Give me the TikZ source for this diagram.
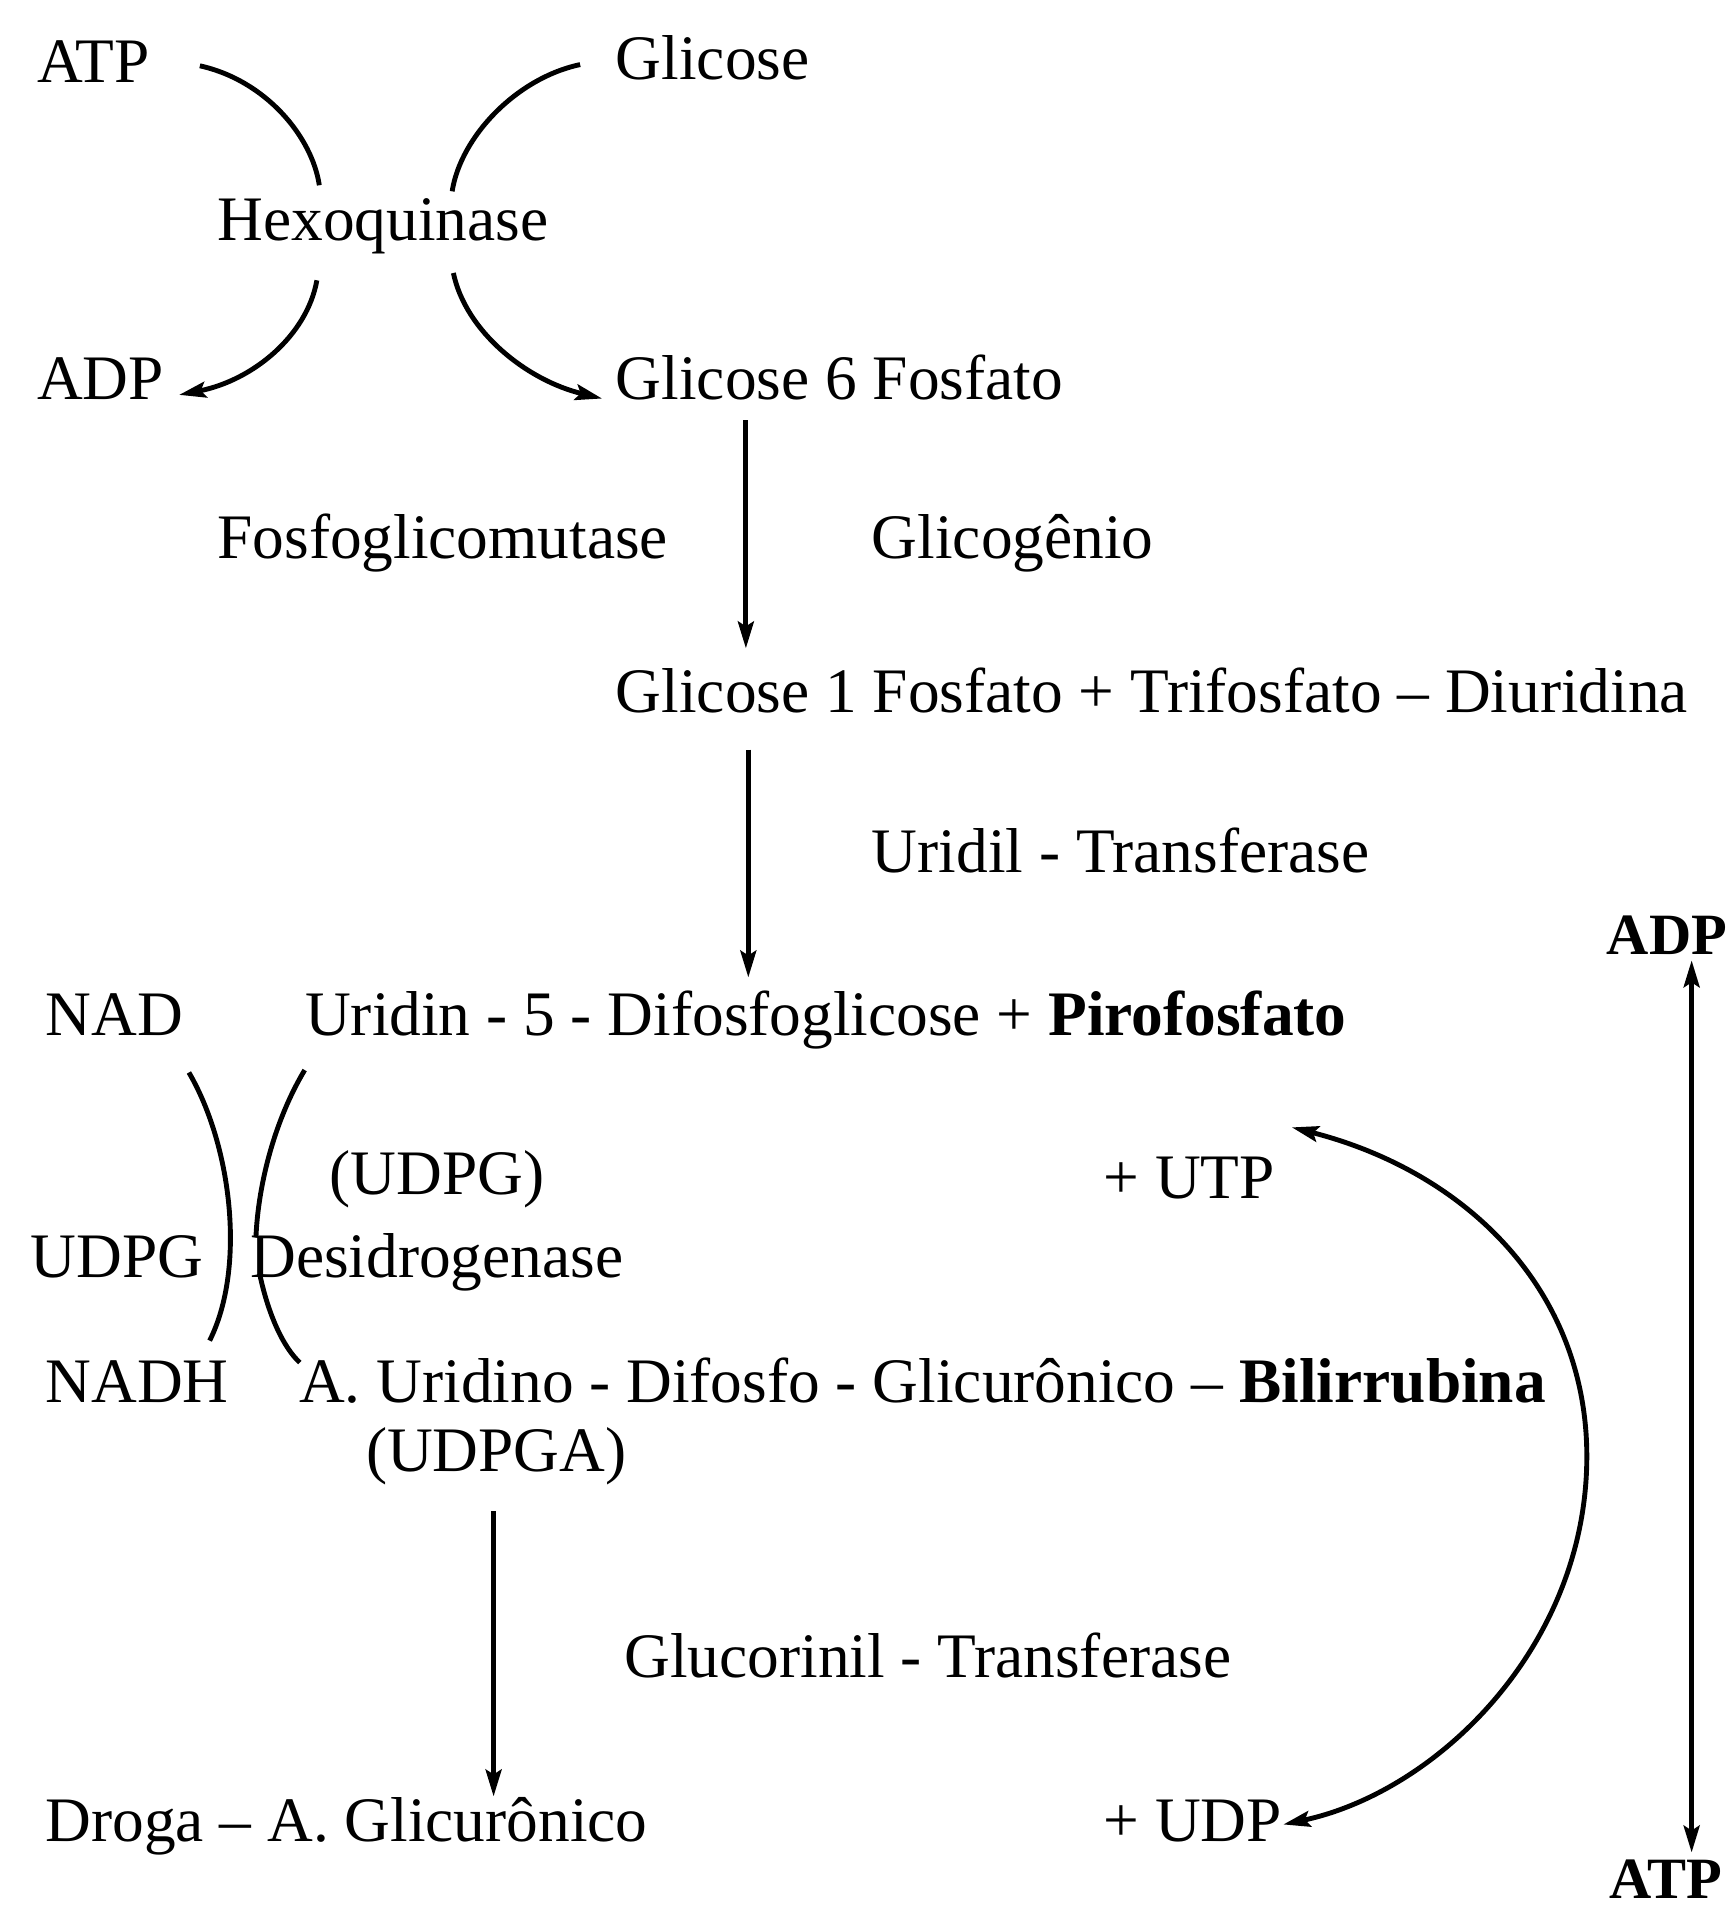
\documentclass[tikz,border=0pt]{standalone}
\usepackage{fontspec}
\setmainfont{Liberation Serif}
\usetikzlibrary{arrows.meta}
\newcommand{\fsz}{\fontsize{26}{31}\selectfont}
\newcommand{\fsb}{\fontsize{24}{29}\selectfont\bfseries}
\tikzset{
  lbl/.style={inner sep=0pt, anchor=base west, font=\fsz},
  lblb/.style={inner sep=0pt, anchor=base west, font=\fsb},
  conn/.style={line width=2pt},
  tip/.style={-{Stealth[length=11pt,width=6.5pt,inset=2pt]}},
  dtip/.style={{Stealth[length=11pt,width=6.5pt,inset=2pt]}-{Stealth[length=11pt,width=6.5pt,inset=2pt]}}
}
\begin{document}
\begin{tikzpicture}[x=0.5pt,y=-0.5pt]
\useasboundingbox (0,0) rectangle (1419,1568);
% texts
\node[lbl] (atp) at (30,68) {ATP};
\node[lbl] (glc) at (505,65) {Glicose};
\node[lbl] (hex) at (178,197) {Hexoquinase};
\node[lbl] (adp) at (30,328) {ADP};
\node[lbl] (g6p) at (505,328) {Glicose 6 Fosfato};
\node[lbl] (fgm) at (178,458) {Fosfoglicomutase};
\node[lbl] (gcg) at (715,458) {Glicogênio};
\node[lbl] (g1p) at (505,585) {Glicose 1 Fosfato + Trifosfato – Diuridina};
\node[lbl] (urt) at (715,716) {Uridil - Transferase};
\node[lblb] (adpr) at (1318,783) {ADP};
\node[lbl] (nad) at (37,850) {NAD};
\node[lbl] (udpg) at (250,850) {Uridin - 5 - Difosfoglicose + \textbf{Pirofosfato}};
\node[lbl] (udpgp) at (270,980) {(UDPG)};
\node[lbl] (utp) at (905,983) {+ UTP};
\node[lbl] (udpgl) at (25,1048) {UDPG};
\node[lbl] (des) at (205,1048) {Desidrogenase};
\node[lbl] (nadh) at (37,1151) {NADH};
\node[lbl] (audg) at (245,1151) {A. Uridino - Difosfo - Glicurônico – \textbf{Bilirrubina}};
\node[lbl] (udpga) at (300,1207) {(UDPGA)};
\node[lbl] (glt) at (512,1376) {Glucorinil - Transferase};
\node[lbl] (drg) at (37,1511) {Droga – A. Glicurônico};
\node[lbl] (udp) at (905,1511) {+ UDP};
\node[lblb] (atpr) at (1320,1558) {ATP};
% connector end points
\coordinate (c1s) at (164,54);   \coordinate (c1e) at (262,152);
\coordinate (c2s) at (476,53);   \coordinate (c2e) at (371,157);
\coordinate (c3s) at (260,230);  \coordinate (c3e) at (147,324);
\coordinate (c4s) at (372,224);  \coordinate (c4e) at (494,327);
\coordinate (v1s) at (612,345);  \coordinate (v1e) at (612,532);
\coordinate (v2s) at (614,615);  \coordinate (v2e) at (614,802);
\coordinate (v3s) at (405,1240); \coordinate (v3e) at (405,1474);
\coordinate (b1s) at (155,880);  \coordinate (b1e) at (172,1100);
\coordinate (b2s) at (250,878);  \coordinate (b2e) at (210,1015);
\coordinate (b3s) at (213,1045); \coordinate (b3e) at (246,1118);
\coordinate (cu1) at (1060,925); \coordinate (cum) at (1302,1195); \coordinate (cu2) at (1053,1497);
\coordinate (dr1) at (1388,788); \coordinate (dr2) at (1388,1520);
% hexokinase curves
\draw[conn] (c1s) .. controls (218,66) and (256,112) .. (c1e);
\draw[conn] (c2s) .. controls (424,64) and (378,112) .. (c2e);
\draw[conn,tip] (c3s) .. controls (252,275) and (208,312) .. (c3e);
\draw[conn,tip] (c4s) .. controls (382,272) and (432,312) .. (c4e);
% vertical arrows
\draw[conn,tip] (v1s) -- (v1e);
\draw[conn,tip] (v2s) -- (v2e);
\draw[conn,tip] (v3s) -- (v3e);
% dehydrogenase brackets
\draw[conn] (b1s) .. controls (190,940) and (202,1040) .. (b1e);
\draw[conn] (b2s) .. controls (226,918) and (212,970) .. (b2e);
\draw[conn] (b3s) .. controls (220,1078) and (232,1105) .. (b3e);
% UTP/UDP loop
\draw[conn,dtip] (cu1) .. controls (1205,962) and (1302,1060) .. (cum)
  .. controls (1302,1350) and (1180,1470) .. (cu2);
% ADP/ATP double arrow
\draw[conn,dtip] (dr1) -- (dr2);
\end{tikzpicture}
\end{document}
